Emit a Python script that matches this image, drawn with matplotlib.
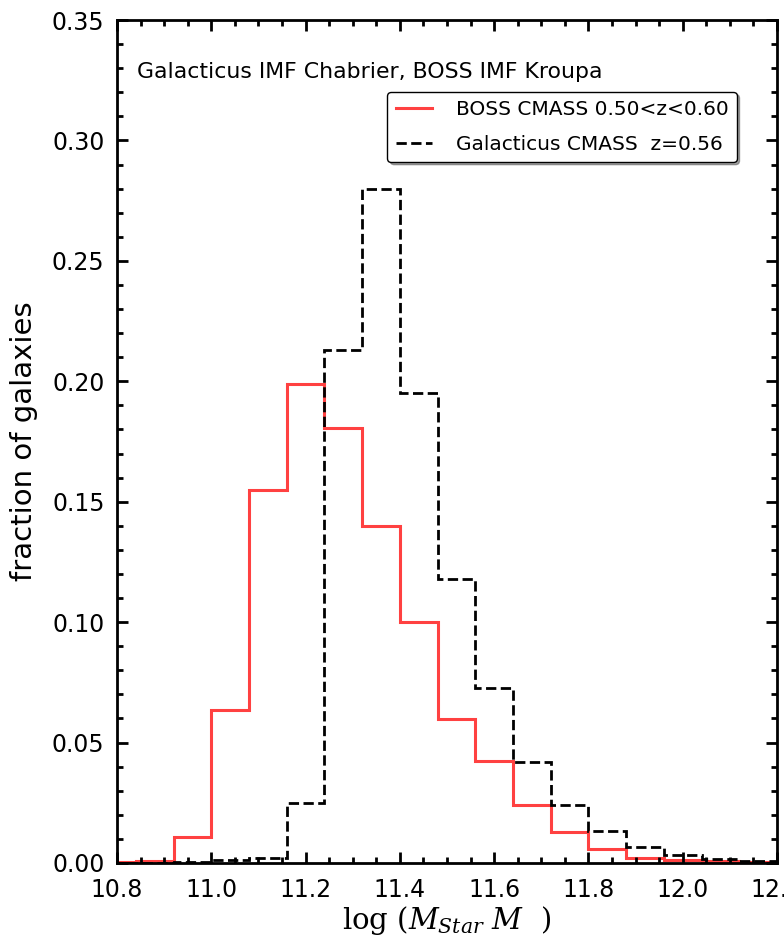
import numpy as np
import matplotlib
matplotlib.use('Agg')
from matplotlib import pyplot as plt
from matplotlib.ticker import MultipleLocator

# stellar mass bins, 0.08 dex wide
edges = np.round(np.arange(10.76, 12.2001, 0.08), 2)

boss = [0.0005, 0.001, 0.011, 0.0635, 0.155, 0.199, 0.1805, 0.140, 0.100,
        0.0598, 0.0423, 0.024, 0.0129, 0.0058, 0.0022, 0.0012, 0.0007, 0.0004]
galacticus = [0.0, 0.0002, 0.0005, 0.0012, 0.0022, 0.025, 0.213, 0.280, 0.195,
              0.118, 0.0726, 0.042, 0.024, 0.0133, 0.0068, 0.0033, 0.0015, 0.001]

plt.rcParams['mathtext.fontset'] = 'dejavuserif'
plt.rcParams['xtick.direction'] = 'in'
plt.rcParams['ytick.direction'] = 'in'

fig = plt.figure(figsize=(7.84, 9.43), dpi=100)
ax = fig.add_axes([117/784., 1 - 863/943., 660/784., 843/943.])

ax.stairs(boss, edges, color='#ff2020', alpha=0.85, lw=2.2,
          label='BOSS CMASS 0.50<z<0.60')
ax.stairs(galacticus, edges, color='k', ls='--', lw=2.0,
          label='Galacticus CMASS  z=0.56')

ax.set_xlim(10.8, 12.2)
ax.set_ylim(0, 0.35)
ax.xaxis.set_major_locator(MultipleLocator(0.2))
ax.xaxis.set_minor_locator(MultipleLocator(0.05))
ax.yaxis.set_major_locator(MultipleLocator(0.05))
ax.yaxis.set_minor_locator(MultipleLocator(0.01))
ax.tick_params(which='both', top=True, right=True, labelsize=17, width=2)
ax.tick_params(which='major', length=8)
ax.tick_params(which='minor', length=4.5)
ax.tick_params(axis='x', which='major', pad=11)
ax.tick_params(axis='y', which='major', pad=9)
for s in ax.spines.values():
    s.set_linewidth(2)

ax.set_xlabel(r'$\mathrm{log}\ (M_{Star}\ M\ \ )$', fontsize=21, labelpad=1)
ax.set_ylabel('fraction of galaxies', fontsize=21, labelpad=10)

ax.text(0.03, 0.938, 'Galacticus IMF Chabrier, BOSS IMF Kroupa',
        transform=ax.transAxes, fontsize=15.8, va='center')

leg = ax.legend(loc='upper right', bbox_to_anchor=(0.939, 0.915), fontsize=14.5,
                fancybox=True, shadow=True, handlelength=1.8, borderpad=0.4,
                handletextpad=1.2, labelspacing=0.8, borderaxespad=0)
leg.get_frame().set_edgecolor('k')
leg.get_frame().set_linewidth(1.0)

fig.savefig('out.png', dpi=100)
